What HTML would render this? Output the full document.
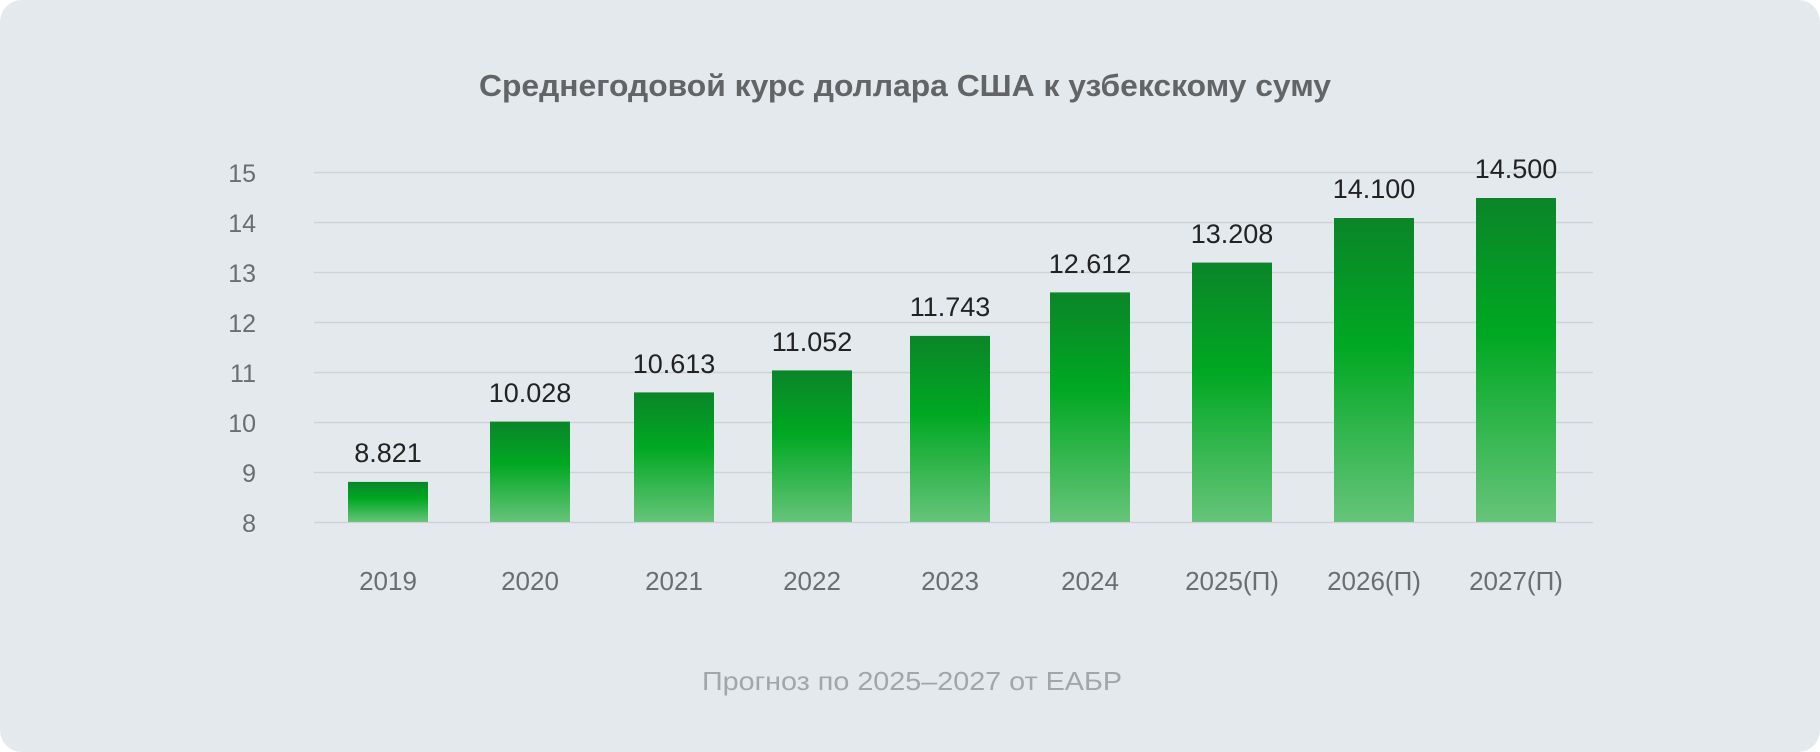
<!DOCTYPE html>
<html><head><meta charset="utf-8"><style>
html,body{margin:0;padding:0;background:#fff;}
body{width:1820px;height:752px;overflow:hidden;}
.card{position:absolute;left:0;top:0;width:1820px;height:752px;background:#e4e9ed;border-radius:22px;}
text{font-family:"Liberation Sans",sans-serif;}
</style></head><body>
<div class="card"></div>
<svg width="1820" height="752" style="position:absolute;left:0;top:0">
<defs>
<linearGradient id="g" x1="0" y1="0" x2="0" y2="1">
<stop offset="0" stop-color="#0b8529"/>
<stop offset="0.42" stop-color="#00a822"/>
<stop offset="1" stop-color="#66c47a"/>
</linearGradient>
</defs>
<text x="905" y="96" text-anchor="middle" font-size="31" font-weight="bold" fill="#626466" textLength="852" lengthAdjust="spacingAndGlyphs">Среднегодовой курс доллара США к узбекскому суму</text>
<g stroke="#cfd3d7" stroke-width="1.5">
<line x1="314" x2="1593" y1="172.5" y2="172.5"/>
<line x1="314" x2="1593" y1="222.5" y2="222.5"/>
<line x1="314" x2="1593" y1="272.5" y2="272.5"/>
<line x1="314" x2="1593" y1="322.5" y2="322.5"/>
<line x1="314" x2="1593" y1="372.5" y2="372.5"/>
<line x1="314" x2="1593" y1="422.5" y2="422.5"/>
<line x1="314" x2="1593" y1="472.5" y2="472.5"/>
<line x1="314" x2="1593" y1="522.5" y2="522.5"/>
</g>
<g font-size="25" fill="#6b6e71" text-anchor="end">
<text x="256" y="182">15</text><text x="256" y="232">14</text><text x="256" y="282">13</text><text x="256" y="332">12</text><text x="256" y="382">11</text><text x="256" y="432">10</text><text x="256" y="482">9</text><text x="256" y="532">8</text>
</g>
<g fill="url(#g)">
<rect x="348" y="481.9" width="80" height="40.1"/>
<rect x="490" y="421.6" width="80" height="100.4"/>
<rect x="634" y="392.4" width="80" height="129.6"/>
<rect x="772" y="370.4" width="80" height="151.6"/>
<rect x="910" y="335.9" width="80" height="186.1"/>
<rect x="1050" y="292.4" width="80" height="229.6"/>
<rect x="1192" y="262.6" width="80" height="259.4"/>
<rect x="1334" y="218" width="80" height="304"/>
<rect x="1476" y="198" width="80" height="324"/>
</g>
<g font-size="27" fill="#222" text-anchor="middle">
<text x="388" y="462">8.821</text>
<text x="530" y="402">10.028</text>
<text x="674" y="373">10.613</text>
<text x="812" y="351">11.052</text>
<text x="950" y="316">11.743</text>
<text x="1090" y="273">12.612</text>
<text x="1232" y="243">13.208</text>
<text x="1374" y="198">14.100</text>
<text x="1516" y="178">14.500</text>
</g>
<g font-size="26" fill="#6b6e71" text-anchor="middle">
<text x="388" y="590">2019</text>
<text x="530" y="590">2020</text>
<text x="674" y="590">2021</text>
<text x="812" y="590">2022</text>
<text x="950" y="590">2023</text>
<text x="1090" y="590">2024</text>
<text x="1232" y="590">2025(П)</text>
<text x="1374" y="590">2026(П)</text>
<text x="1516" y="590">2027(П)</text>
</g>
<text x="912" y="690" text-anchor="middle" font-size="26" fill="#a3a6a9" textLength="420" lengthAdjust="spacingAndGlyphs">Прогноз по 2025–2027 от ЕАБР</text>
</svg>
</body></html>
